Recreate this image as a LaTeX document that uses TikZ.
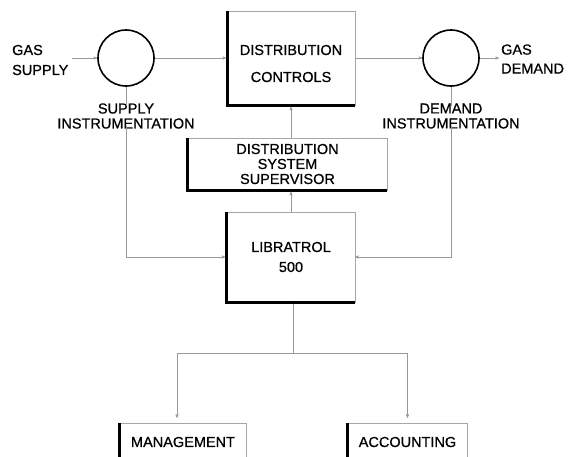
\documentclass[tikz,border=0pt]{standalone}
\usepackage{fontspec}
\setmainfont{Liberation Sans}[BoldFont=Liberation Sans, BoldFeatures={FakeBold=0.7}]
\usetikzlibrary{arrows}

\begin{document}
\begin{tikzpicture}[x=1pt, y=-1pt,
  every node/.style={font=\fontsize{14.5}{15}\selectfont\bfseries, inner sep=0pt},
  tank/.style={circle, draw, line width=1.6pt, minimum size=56pt},
  panel/.style={draw=gray!70, thin, align=center},
  heavy/.style={line width=3pt},
  flow/.style={gray!80, thin, ->, >=stealth'},
  wire/.style={gray!80, thin}]
\path[use as bounding box, clip] (0,0) rectangle (571,456);

% meters
\node[tank] (sc) at (126,58) {};
\node[tank] (dmc) at (451,58) {};
\node[align=left, anchor=west] (gs) at (12,60) {GAS\\[5pt]SUPPLY};
\node[align=left, anchor=west] (gd) at (501,59) {GAS\\[4pt]DEMAND};
\node[align=center] (si) at (126,116) {SUPPLY\\INSTRUMENTATION};
\node[align=center] (di) at (451,116) {DEMAND\\INSTRUMENTATION};

% boxes
\node[panel, minimum width=127pt, minimum height=94pt] (dc) at (291.5,58) {};
\node[align=center] (dct) at (291,63.5) {DISTRIBUTION\\[12pt]CONTROLS};
\node[panel, minimum width=199pt, minimum height=52pt] (sup) at (287.5,164) {DISTRIBUTION\\SYSTEM\\SUPERVISOR};
\node[panel, minimum width=128pt, minimum height=90pt] (lib) at (291,257) {LIBRATROL\\[5pt]500};
\node[panel, minimum width=126pt, minimum height=38pt] (mgmt) at (183,442) {MANAGEMENT};
\node[panel, minimum width=119pt, minimum height=38pt] (acct) at (407.5,442) {ACCOUNTING};
\draw[heavy] (dc.north west) -- (dc.south west) -- (dc.south east);
\draw[heavy] (sup.north west) -- (sup.south west) -- (sup.south east);
\draw[heavy] (lib.north west) -- (lib.south west) -- (lib.south east);
\draw[heavy] (mgmt.north west) -- (mgmt.south west);
\draw[heavy] (acct.north west) -- (acct.south west);

% gas flow
\draw[flow] ([xshift=3pt]gs.east |- sc) -- (sc.west);
\draw[flow, shorten >=1.5pt] (sc.east) -- (dc.west |- sc);
\draw[flow] (dc.east |- dmc) -- (dmc.west);
\draw[flow] (dmc.east) -- ([xshift=-2pt]gd.west |- dmc);

% signals
\draw[wire] (sc.south) -- ([yshift=-3pt]si.north);
\draw[wire] (dmc.south) -- ([yshift=-3pt]di.north);
\draw[flow, shorten >=1.5pt] ([yshift=3pt]si.south) |- (lib.west);
\draw[flow] ([yshift=3pt]di.south) |- (lib.east);
\draw[flow, shorten >=1.5pt] (lib.north) -- (lib.north |- sup.south);
\draw[flow, shorten >=1.5pt] (lib.north |- sup.north) -- (lib.north |- dc.south);
\coordinate (split) at (293,353);
\draw[wire, shorten <=1.5pt] (lib.south -| split) -- (split);
\draw[flow, shorten >=5pt] (split) -| ([xshift=-6pt]mgmt.north);
\draw[flow, shorten >=5pt] (split) -| (acct.north);
\end{tikzpicture}
\end{document}
